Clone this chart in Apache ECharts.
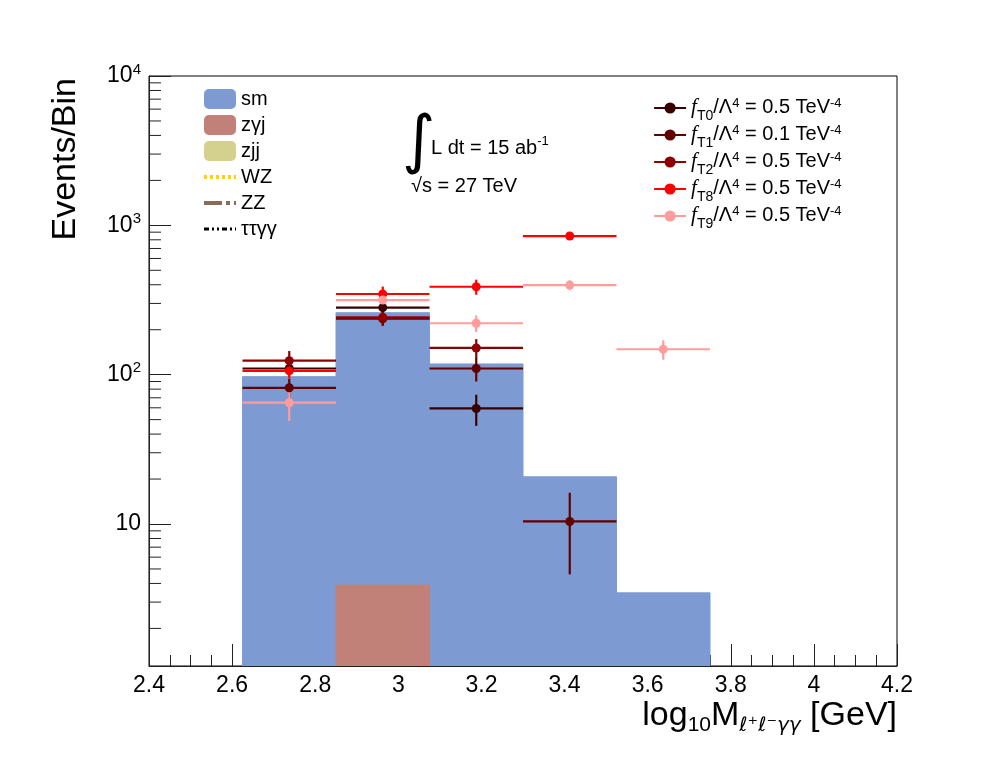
<!DOCTYPE html>
<html>
<head>
<meta charset="utf-8">
<script src="https://cdn.jsdelivr.net/npm/echarts@6/dist/echarts.min.js"></script>
<style>
  html, body { margin: 0; padding: 0; background: #fff; }
  #chart { width: 998px; height: 775px; }
</style>
</head>
<body>
<div id="chart"></div>
<script>
// bin edges of the histogram (log10 M)
const binEdges = [2.625, 2.85, 3.075, 3.3, 3.525, 3.75];

// background histograms (events per bin)
const smValues = [97, 260, 118, 20.7, 3.46];
const zgjValues = [null, 3.9, null, null, null];

// signal points per bin, null = not drawn
const t0Values = [110, 281, 59.4, null, null];
const t1Values = [81.7, 237, 110, 10.4, null];
const t2Values = [124, 242, 151, null, null];
const t8Values = [106, 347, 388, 848, null];
const t9Values = [64.9, 316, 221, 398, 148];

// vertical error bars
const t0Errors = [11, 20, 14, null, null];
const t1Errors = [12, 25, 20, 5.8, null];
const t2Errors = [20, 28, 22, null, null];
const t8Errors = [12, 42, 45, 35, null];
const t9Errors = [16, 25, 28, 30, 22];

const couplings = ['0.5', '0.1', '0.5', '0.5', '0.5'];
const pointNames = ['T0', 'T1', 'T2', 'T8', 'T9'];
const pointColors = ['#3a0000', '#620000', '#8e0000', '#ff0000', '#ff9c9c'];

const xTicks = { min: 2.4, max: 4.2, step: 0.2 };
const yRange = { min: 1.12, max: 10000 };

const chartDom = document.getElementById('chart');
const myChart = echarts.init(chartDom);

const FONT = 'Liberation Sans';

// minor ticks of the log axis: 2..9 x 10^k
const yMinorTicks = [];
for (let k = 0; k < 4; k++) {
  for (let m = 2; m <= 9; m++) {
    const v = m * Math.pow(10, k);
    if (v > yRange.min && v < yRange.max) yMinorTicks.push([xTicks.min, v]);
  }
}

const histData = (vals) => vals.map((v, i) => [binEdges[i], binEdges[i + 1], v == null ? 0 : v]);

const histSeries = (name, vals, color) => ({
  name: name,
  type: 'custom',
  itemStyle: { color: color },
  clip: true,
  z: 2,
  data: histData(vals),
  renderItem: function (params, api) {
    const v = api.value(2);
    if (!v) return null;
    const tl = api.coord([api.value(0), v]);
    const br = api.coord([api.value(1), yRange.min]);
    return {
      type: 'rect',
      shape: { x: tl[0], y: tl[1], width: br[0] - tl[0], height: br[1] - tl[1] },
      style: { fill: color, stroke: color, lineWidth: 1 }
    };
  }
});

const allValues = [t0Values, t1Values, t2Values, t8Values, t9Values];
const allErrors = [t0Errors, t1Errors, t2Errors, t8Errors, t9Errors];

const pointSeries = [];
const errorSeries = [];
pointNames.forEach((name, s) => {
  const pts = [];
  const errs = [];
  allValues[s].forEach((v, i) => {
    if (v == null) return;
    const xc = (binEdges[i] + binEdges[i + 1]) / 2;
    pts.push([xc, v]);
    errs.push([xc, v, allErrors[s][i], binEdges[i], binEdges[i + 1]]);
  });
  pointSeries.push({
    name: name,
    type: 'line',
    data: pts,
    symbol: 'circle',
    symbolSize: 9,
    itemStyle: { color: pointColors[s] },
    lineStyle: { color: pointColors[s], width: 2, opacity: 0 },
    z: 6
  });
  errorSeries.push({
    name: name + ' err',
    type: 'custom',
    data: errs,
    clip: true,
    z: 4,
    renderItem: function (params, api) {
      const x = api.value(0), y = api.value(1), e = api.value(2);
      const p = api.coord([x, y]);
      const l = api.coord([api.value(3), y]);
      const r = api.coord([api.value(4), y]);
      const t = api.coord([x, y + e]);
      const b = api.coord([x, Math.max(y - e, yRange.min)]);
      const st = { stroke: pointColors[s], lineWidth: 2.2 };
      return {
        type: 'group',
        children: [
          { type: 'line', shape: { x1: l[0], y1: p[1], x2: r[0], y2: p[1] }, style: st },
          { type: 'line', shape: { x1: p[0], y1: t[1], x2: p[0], y2: b[1] }, style: st }
        ]
      };
    }
  });
});

const option = {
  animation: false,
  backgroundColor: '#fff',
  grid: {
    left: 149, right: 101, top: 76, bottom: 109,
    show: true, borderColor: '#000', borderWidth: 1, backgroundColor: '#fff'
  },
  xAxis: {
    type: 'value',
    min: xTicks.min,
    max: xTicks.max,
    interval: xTicks.step,
    axisLine: { lineStyle: { color: '#222', width: 1 } },
    axisTick: { inside: true, length: 22, lineStyle: { color: '#222' } },
    minorTick: { show: true, splitNumber: 4, length: 11, lineStyle: { color: '#222' } },
    splitLine: { show: false },
    axisLabel: { fontSize: 23, fontFamily: FONT, color: '#000', margin: 8 }
  },
  yAxis: {
    type: 'log',
    logBase: 10,
    min: yRange.min,
    max: yRange.max,
    axisLine: { show: true, lineStyle: { color: '#222', width: 1 } },
    axisTick: { show: true, inside: true, length: 22, lineStyle: { color: '#222' } },
    splitLine: { show: false },
    axisLabel: {
      margin: 8,
      color: '#000',
      formatter: function (v) {
        const e = Math.log10(v);
        if (Math.abs(e - Math.round(e)) > 1e-6) return '';
        const k = Math.round(e);
        if (k === 1) return '{b|10}';
        return '{b|10}{s|' + k + '}';
      },
      rich: {
        b: { fontSize: 23, fontFamily: FONT, color: '#000', lineHeight: 28 },
        s: { fontSize: 15, fontFamily: FONT, color: '#000', lineHeight: 14, verticalAlign: 'top' }
      }
    }
  },
  legend: [
    {
      orient: 'vertical',
      left: 197,
      top: 84,
      itemWidth: 32,
      itemHeight: 20,
      itemGap: 6,
      textStyle: { fontSize: 20, fontFamily: FONT, color: '#000', lineHeight: 20 },
      data: [
        { name: 'sm', icon: 'roundRect' },
        { name: 'zγj', icon: 'roundRect' },
        { name: 'zjj', icon: 'roundRect' },
        { name: 'WZ', itemStyle: { opacity: 0 }, lineStyle: { width: 4 } },
        { name: 'ZZ', itemStyle: { opacity: 0 }, lineStyle: { width: 4 } },
        { name: 'ττγγ', itemStyle: { opacity: 0 }, lineStyle: { width: 3 } }
      ]
    },
    {
      orient: 'vertical',
      left: 648,
      top: 92,
      itemWidth: 32,
      itemHeight: 14,
      itemGap: 1,
      data: pointNames.map(n => ({ name: n, lineStyle: { opacity: 1, width: 2.2 } })),
      formatter: function (name) {
        const c = couplings[pointNames.indexOf(name)];
        return '{f|f}{sub|' + name + '}{n|/Λ}{sup|4}{n| = ' + c + ' TeV}{sup|-4}';
      },
      textStyle: {
        color: '#000',
        rich: {
          f: { fontSize: 21, fontFamily: 'Liberation Serif', fontStyle: 'italic', color: '#000', lineHeight: 22, verticalAlign: 'top' },
          n: { fontSize: 20, fontFamily: FONT, color: '#000', lineHeight: 22, verticalAlign: 'top' },
          sub: { fontSize: 14, fontFamily: FONT, color: '#000', lineHeight: 14, padding: [12, 0, 0, 0], verticalAlign: 'top' },
          sup: { fontSize: 13, fontFamily: FONT, color: '#000', lineHeight: 12, verticalAlign: 'top' }
        }
      }
    }
  ],
  graphic: [
    {
      type: 'text', x: 66, y: 78, rotation: Math.PI / 2,
      style: { text: 'Events/Bin', fontSize: 34, fontFamily: FONT, fill: '#000', align: 'right', verticalAlign: 'middle' }
    },
    {
      type: 'text', x: 897, y: 716,
      style: {
        text: '{n|log}{sub|10}{n|M}{ll|ℓ⁺ℓ⁻γγ}{n| [GeV]}',
        align: 'right', verticalAlign: 'middle',
        rich: {
          n: { fontSize: 34, fontFamily: FONT, fill: '#000', lineHeight: 40 },
          sub: { fontSize: 21, fontFamily: FONT, fill: '#000', lineHeight: 18, verticalAlign: 'bottom' },
          ll: { fontSize: 20, fontFamily: 'DejaVu Sans', fontStyle: 'italic', fill: '#000', lineHeight: 20, verticalAlign: 'bottom' }
        }
      }
    },
    {
      type: 'text', x: 402, y: 144,
      style: { text: '∫', fontSize: 64, fontFamily: 'DejaVu Sans', fill: '#000', verticalAlign: 'middle' }
    },
    {
      type: 'text', x: 431, y: 148,
      style: {
        text: '{n|L dt = 15 ab}{s|-1}',
        verticalAlign: 'middle',
        rich: {
          n: { fontSize: 20, fontFamily: FONT, fill: '#000', lineHeight: 26 },
          s: { fontSize: 13, fontFamily: FONT, fill: '#000', lineHeight: 13, verticalAlign: 'top' }
        }
      }
    },
    {
      type: 'text', x: 411, y: 186,
      style: { text: '√s = 27 TeV', fontSize: 20, fontFamily: FONT, fill: '#000', verticalAlign: 'middle' }
    }
  ],
  series: [
    histSeries('sm', smValues, '#7d9bd2'),
    histSeries('zγj', zgjValues, '#c18178'),
    histSeries('zjj', [null, null, null, null, null], '#d4d08e'),
    { name: 'WZ', type: 'line', data: [], symbol: 'none', lineStyle: { color: '#ffd200', width: 4, type: [3, 3] } },
    { name: 'ZZ', type: 'line', data: [], symbol: 'none', lineStyle: { color: '#8b6a5a', width: 4, type: [18, 4, 4, 4] } },
    { name: 'ττγγ', type: 'line', data: [], symbol: 'none', lineStyle: { color: '#000', width: 3, type: [5, 3, 2, 3, 2, 3] } },
    {
      name: 'minor ticks',
      type: 'custom',
      data: yMinorTicks,
      clip: false,
      z: 10,
      silent: true,
      renderItem: function (params, api) {
        const p = api.coord([api.value(0), api.value(1)]);
        return {
          type: 'line',
          shape: { x1: p[0], y1: p[1], x2: p[0] + 12, y2: p[1] },
          style: { stroke: '#222', lineWidth: 1 }
        };
      }
    },
    ...errorSeries,
    ...pointSeries
  ]
};

myChart.setOption(option);
</script>
</body>
</html>
